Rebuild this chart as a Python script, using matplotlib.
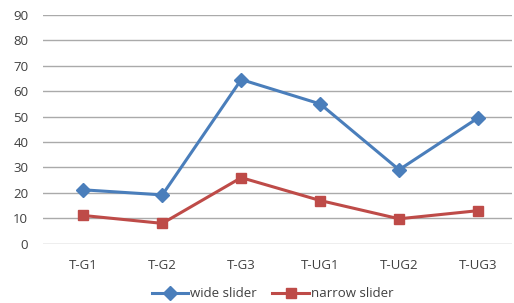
import matplotlib.pyplot as plt

# данные
categories = ['T-G1', 'T-G2', 'T-G3', 'T-UG1', 'T-UG2', 'T-UG3']
wide_slider = [21.2, 19.2, 64.6, 55.0, 29.1, 49.5]
narrow_slider = [11.1, 8.0, 26.0, 17.0, 9.8, 13.0]

plt.rcParams['font.family'] = ['Open Sans', 'DejaVu Sans']

fig = plt.figure(figsize=(5.14, 3.03), dpi=100)
ax = fig.add_axes([0.0846, 0.1957, 0.9114, 0.7548])

x = range(len(categories))
ax.plot(x, wide_slider, color='#4A7EBB', lw=2.2, marker='D', markersize=7, label='wide slider')
ax.plot(x, narrow_slider, color='#BE4B48', lw=2.2, marker='s', markersize=7.5, label='narrow slider')

ax.set_xlim(-0.506, 5.43)
ax.set_ylim(0, 90)
ax.set_yticks(range(0, 91, 10))
ax.set_xticks(list(x))
ax.set_xticklabels(categories)
ax.grid(axis='y', color='#AAAAAA', lw=1.0)
ax.set_axisbelow(True)
for s in ax.spines.values():
    s.set_visible(False)
ax.tick_params(length=0, labelsize=9.5, colors='#404040')
ax.tick_params(axis='x', pad=11)
ax.tick_params(axis='y', pad=11)

fig.legend(loc='center', bbox_to_anchor=(0.53, 0.03), ncol=2, frameon=False,
           fontsize=9.5, handlelength=2.8, columnspacing=1.2, handletextpad=0.1,
           labelcolor='#404040')

fig.savefig('out.png', dpi=100)
